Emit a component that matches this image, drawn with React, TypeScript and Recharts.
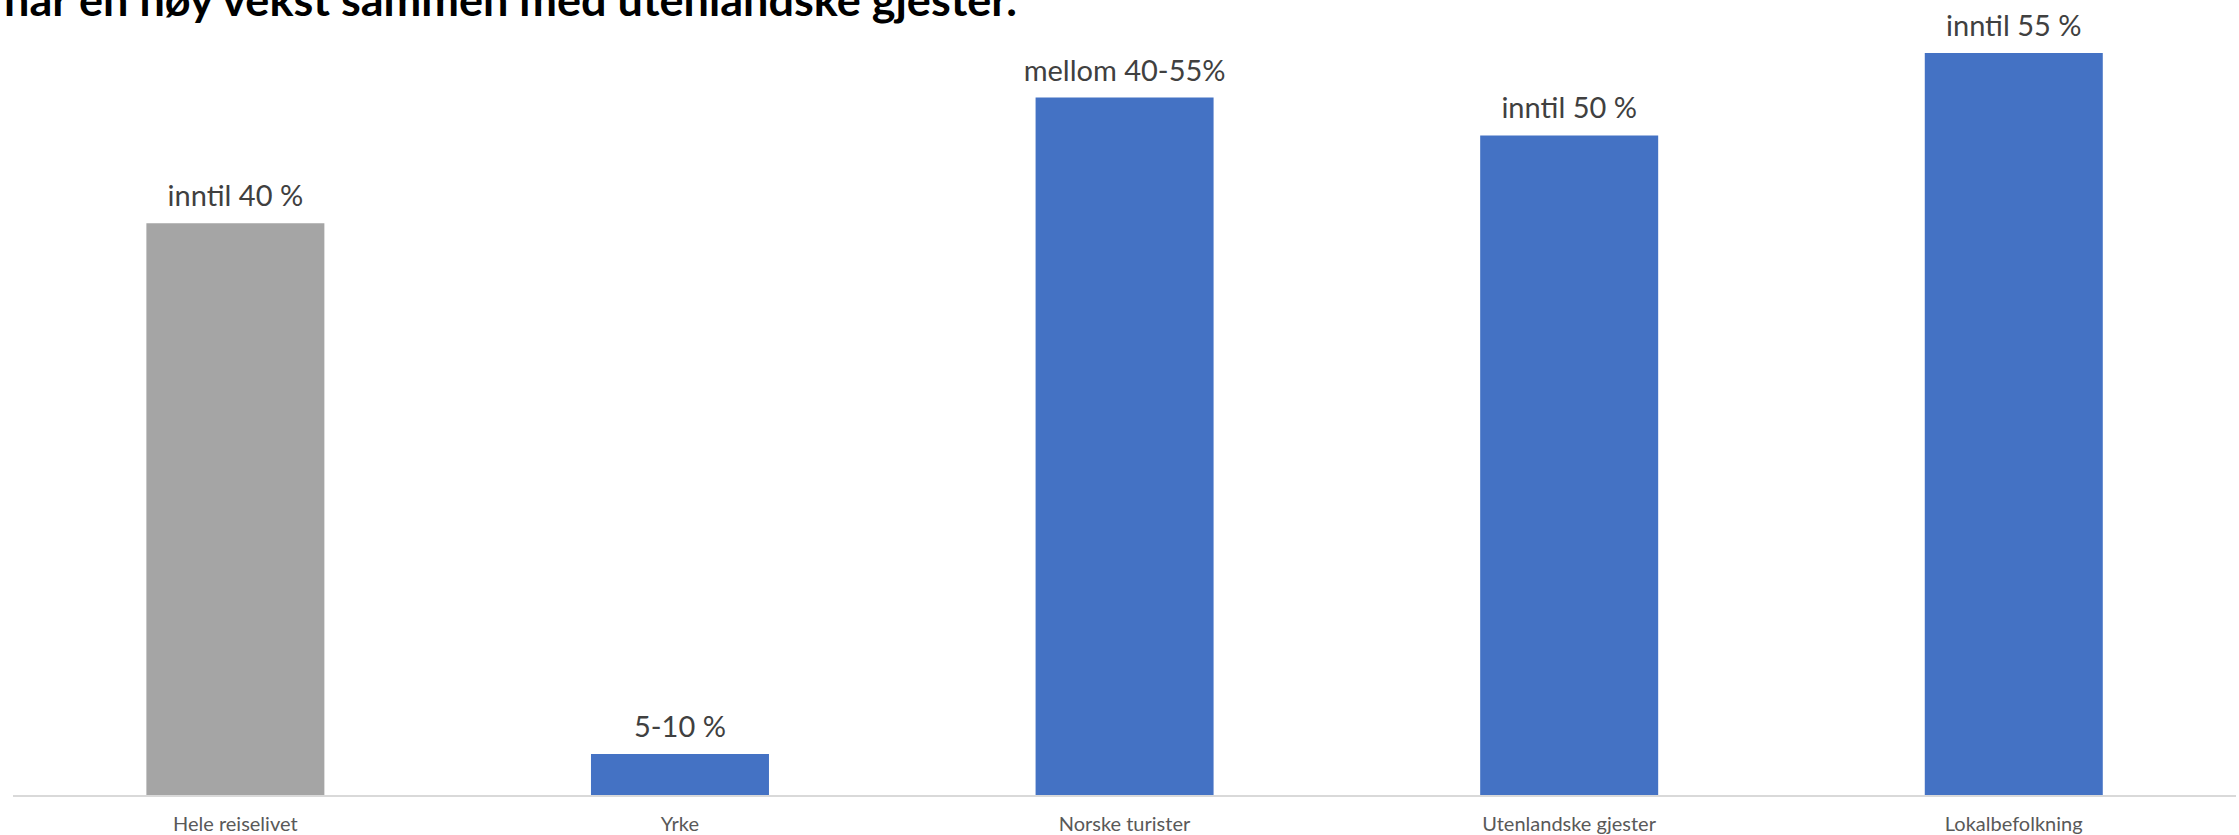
import React from 'react';
import { BarChart, Bar, XAxis, YAxis, Cell, LabelList } from 'recharts';

const categories = ['Hele reiselivet', 'Yrke', 'Norske turister', 'Utenlandske gjester', 'Lokalbefolkning'];
const values = [42.4, 3.1, 51.7, 48.9, 55];
const valueLabels = ['inntil 40 %', '5-10 %', 'mellom 40-55%', 'inntil 50 %', 'inntil 55 %'];
const barColors = ['#a5a5a5', '#4472c4', '#4472c4', '#4472c4', '#4472c4'];
const title = 'har en høy vekst sammen med utenlandske gjester.';

const FONT = 'Lato, "Open Sans", sans-serif';

const chartData = categories.map((name, i) => ({
    name,
    value: values[i],
    label: valueLabels[i],
}));

const renderTick = (props: any) => {
    const { x, y, payload } = props;
    return (
        <text x={x} y={y + 33} textAnchor="middle" fill="#595959" fontSize={20} fontFamily={FONT}>
            {payload.value}
        </text>
    );
};

const renderLabel = (props: any) => {
    const { x, y, width, value } = props;
    return (
        <text x={x + width / 2} y={y - 17} textAnchor="middle" fill="#404040" fontSize={29} fontFamily={FONT}>
            {value}
        </text>
    );
};

export default function App() {
    return (
        <div style={{ position: 'relative', width: 2239, height: 835, background: '#fff' }}>
            <style>{'body{margin:0}'}</style>
            <BarChart
                width={2239}
                height={835}
                data={chartData}
                margin={{ top: 53, right: 3, left: 13, bottom: 9 }}
                barCategoryGap="30%"
            >
                <XAxis
                    dataKey="name"
                    height={30}
                    tickLine={false}
                    tickSize={0}
                    axisLine={{ stroke: '#d9d9d9', strokeWidth: 2 }}
                    tick={renderTick}
                    interval={0}
                />
                <YAxis hide domain={[0, 55]} />
                <Bar dataKey="value" isAnimationActive={false}>
                    {chartData.map((d, i) => (
                        <Cell key={d.name} fill={barColors[i]} />
                    ))}
                    <LabelList dataKey="label" content={renderLabel} />
                </Bar>
            </BarChart>
            <svg width={2239} height={60} style={{ position: 'absolute', left: 0, top: 0 }}>
                <text
                    x={4}
                    y={16}
                    fontSize={44}
                    fontWeight="bold"
                    fontFamily={FONT}
                    fill="#000"
                    textLength={1013}
                    lengthAdjust="spacingAndGlyphs"
                >
                    {title}
                </text>
            </svg>
        </div>
    );
}
